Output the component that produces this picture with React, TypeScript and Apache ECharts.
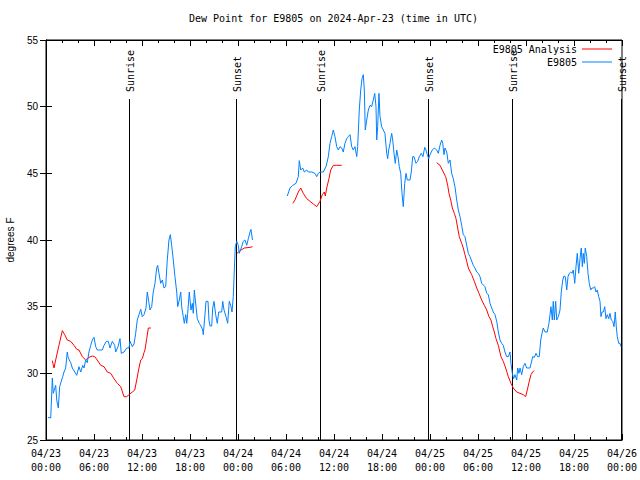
import React, { useEffect, useRef } from "react";
import * as echarts from "echarts";

const TITLE = "Dew Point for E9805 on 2024-Apr-23 (time in UTC)";
const Y_NAME = "degrees F";
const OBS_NAME = "E9805";
const ANA_NAME = "E9805 Analysis";

// x tick labels, one every 6 hours from 04/23 00:00 UTC
const xTickLabels = [
  "04/23\n00:00", "04/23\n06:00", "04/23\n12:00", "04/23\n18:00",
  "04/24\n00:00", "04/24\n06:00", "04/24\n12:00", "04/24\n18:00",
  "04/25\n00:00", "04/25\n06:00", "04/25\n12:00", "04/25\n18:00",
  "04/26\n00:00",
];

// sunrise / sunset, hours since 04/23 00:00 UTC
const sunHours = [10.41, 23.75, 34.25, 47.75, 58.25, 71.87];
const sunLabels = ["Sunrise", "Sunset", "Sunrise", "Sunset", "Sunrise", "Sunset"];

// observed dew point [hours since 04/23 00:00 UTC, °F]
const obsSeg1 = [
  [0.25, 26.7], [0.59, 26.65], [0.79, 29.65], [0.91, 28.5], [1.21, 29.1], [1.34, 28.0],
  [1.54, 27.4], [1.71, 29.0], [1.96, 29.5], [2.09, 29.75], [2.25, 30.1], [2.46, 30.4],
  [2.66, 31.6], [2.75, 31.25], [2.91, 31.0], [3.09, 30.8], [3.29, 30.4], [3.59, 30.1],
  [3.84, 29.85], [4.12, 30.5], [4.34, 30.1], [4.59, 30.6], [4.75, 30.4], [4.96, 31.0],
  [5.16, 30.8], [5.37, 31.6], [5.59, 32.1], [5.79, 32.5], [6.0, 32.7], [6.21, 32.0],
  [6.41, 31.75], [6.84, 31.75], [7.04, 31.75], [7.25, 32.1], [7.54, 32.4], [7.79, 32.4],
  [8.0, 31.9], [8.29, 32.4], [8.59, 32.1], [8.71, 31.6], [9.0, 32.0], [9.25, 32.6],
  [9.41, 31.5], [9.75, 31.6], [10.09, 31.9], [10.37, 31.9], [10.5, 32.4], [10.79, 32.0],
  [11.0, 32.2], [11.21, 33.0], [11.41, 34.0], [11.62, 34.4], [11.84, 34.8], [12.04, 34.25],
  [12.25, 34.4], [12.5, 34.9], [12.66, 36.1], [12.84, 35.4], [13.0, 34.75], [13.21, 35.0],
  [13.41, 36.1], [13.62, 36.75], [13.84, 37.9], [13.96, 38.1], [14.12, 37.5], [14.34, 36.75],
  [14.54, 37.0], [14.75, 36.4], [14.96, 36.5], [15.16, 38.5], [15.37, 40.0], [15.54, 40.4],
  [15.71, 39.6], [15.91, 38.5], [16.12, 37.25], [16.34, 36.1], [16.46, 35.0], [16.66, 35.5],
  [16.84, 36.1], [16.96, 35.0], [17.16, 34.25], [17.29, 33.75], [17.46, 34.4], [17.59, 33.75],
  [17.71, 34.5], [17.91, 36.1], [18.12, 34.75], [18.29, 35.25], [18.41, 34.5], [18.54, 36.25],
  [18.75, 35.0], [18.91, 34.1], [19.16, 33.75], [19.37, 33.55], [19.59, 33.25], [19.66, 32.9],
  [19.87, 34.4], [20.0, 35.4], [20.25, 35.4], [20.37, 34.0], [20.5, 33.55], [20.71, 33.55],
  [20.84, 34.9], [21.0, 35.4], [21.21, 34.4], [21.41, 33.75], [21.59, 34.6], [21.96, 34.6],
  [22.09, 35.4], [22.25, 34.75], [22.5, 34.25], [22.71, 33.75], [22.91, 35.4], [23.09, 35.1],
  [23.25, 34.6], [23.41, 35.75], [23.54, 37.75], [23.66, 39.5], [23.84, 39.9], [24.04, 39.6],
  [24.16, 39.0], [24.46, 39.5], [24.66, 39.9], [24.87, 40.0], [25.09, 39.6], [25.29, 40.1],
  [25.5, 40.6], [25.62, 40.8], [25.81, 40.0],
];

const obsSeg2 = [
  [30.16, 43.3], [30.5, 43.9], [30.84, 44.1], [31.25, 44.25], [31.54, 44.75], [31.66, 45.95],
  [31.84, 45.25], [32.09, 45.4], [32.29, 45.1], [32.59, 45.25], [32.79, 45.1], [33.21, 45.1],
  [33.62, 45.0], [33.84, 44.75], [34.04, 45.0], [34.25, 45.1], [34.66, 45.1], [35.0, 45.5],
  [35.29, 46.25], [35.5, 47.25], [35.71, 47.75], [35.91, 48.25], [36.12, 47.75], [36.34, 47.0],
  [36.54, 46.75], [36.75, 47.0], [36.96, 46.9], [37.16, 46.6], [37.37, 47.25], [37.59, 47.6],
  [37.79, 47.75], [38.0, 47.9], [38.21, 47.0], [38.41, 46.75], [38.62, 47.0], [38.84, 46.25],
  [38.96, 47.0], [39.16, 49.75], [39.34, 51.25], [39.5, 52.1], [39.66, 52.4], [39.79, 51.25],
  [39.91, 48.25], [40.09, 49.0], [40.29, 49.75], [40.5, 50.1], [40.71, 50.0], [40.91, 50.5],
  [41.09, 51.0], [41.25, 50.0], [41.34, 47.5], [41.46, 48.5], [41.62, 51.0], [41.75, 49.25],
  [41.96, 48.5], [42.16, 48.25], [42.37, 48.0], [42.59, 46.5], [42.71, 46.1], [42.84, 46.75],
  [43.0, 47.25], [43.21, 48.0], [43.34, 47.5], [43.5, 46.5], [43.66, 45.75], [43.84, 46.75],
  [44.0, 46.25], [44.16, 45.5], [44.34, 45.0], [44.5, 43.5], [44.66, 42.5], [44.84, 44.25],
  [45.0, 45.0], [45.16, 44.5], [45.5, 44.5], [45.66, 45.1], [45.84, 46.25], [46.0, 46.25],
  [46.25, 45.75], [46.46, 45.9], [46.66, 46.25], [46.91, 46.5], [47.12, 46.25], [47.34, 46.95],
  [47.5, 46.75], [47.66, 46.4], [47.84, 46.1], [48.0, 46.4], [48.29, 46.75], [48.54, 46.9],
  [48.84, 46.75], [49.04, 46.5], [49.25, 47.1], [49.46, 47.5], [49.59, 47.25], [49.75, 46.4],
  [49.87, 46.9], [50.09, 46.6], [50.29, 45.75], [50.5, 46.0], [50.71, 45.0], [50.91, 44.6],
  [51.12, 44.0], [51.34, 43.0], [51.54, 42.25], [51.75, 41.75], [51.96, 41.1], [52.16, 40.4],
  [52.37, 40.25], [52.59, 39.6], [52.79, 39.0], [53.0, 38.75], [53.41, 38.1], [53.62, 37.9],
  [53.84, 37.6], [54.04, 37.5], [54.25, 37.25], [54.46, 36.75], [54.87, 36.5], [55.09, 36.0],
  [55.29, 35.9], [55.5, 35.25], [55.71, 34.9], [55.91, 34.6], [56.12, 34.4], [56.34, 33.9],
  [56.54, 33.1], [56.75, 32.5], [56.96, 32.25], [57.16, 32.1], [57.37, 31.6], [57.59, 31.25],
  [57.79, 31.25], [58.0, 31.6], [58.12, 30.75], [58.29, 30.0], [58.46, 29.6], [58.62, 29.9],
  [58.84, 29.5], [58.96, 30.4], [59.12, 30.0], [59.25, 30.4], [59.46, 29.9], [59.66, 30.5],
  [59.87, 30.75], [60.09, 30.4], [60.5, 30.4], [60.84, 31.25], [61.04, 31.2], [61.25, 31.5],
  [61.46, 31.25], [61.66, 31.25], [61.84, 32.5], [62.0, 33.0], [62.16, 33.4], [62.37, 33.1],
  [62.66, 33.1], [62.87, 33.75], [63.0, 34.4], [63.12, 35.0], [63.29, 34.0], [63.41, 35.4],
  [63.54, 34.0], [63.71, 35.4], [63.84, 34.0], [64.04, 34.25], [64.25, 34.75], [64.41, 36.1],
  [64.59, 37.0], [64.75, 37.3], [64.91, 37.25], [65.09, 36.25], [65.25, 37.25], [65.41, 37.5],
  [65.59, 37.6], [65.75, 37.5], [65.91, 37.75], [66.09, 36.75], [66.25, 38.0], [66.41, 39.0],
  [66.59, 37.5], [66.75, 38.6], [66.91, 39.4], [67.04, 38.0], [67.16, 39.0], [67.29, 38.25],
  [67.41, 39.4], [67.59, 38.75], [67.75, 37.5], [67.91, 36.75], [68.09, 36.25], [68.25, 36.4],
  [68.41, 36.4], [68.59, 36.5], [68.75, 36.1], [68.91, 36.25], [69.09, 35.75], [69.25, 35.4],
  [69.37, 34.25], [69.5, 34.6], [69.66, 34.6], [69.84, 35.0], [70.0, 34.1], [70.16, 34.4],
  [70.34, 34.1], [70.5, 34.5], [70.66, 34.0], [70.84, 33.9], [71.0, 33.5], [71.16, 34.6],
  [71.29, 33.5], [71.41, 32.75], [71.59, 32.25], [71.75, 32.25], [71.87, 32.0],
];

// analysis dew point [hours since 04/23 00:00 UTC, °F]
const anaSeg1 = [
  [0.79, 30.95], [1.0, 30.4], [1.21, 31.0], [1.62, 32.1], [2.04, 33.2], [2.34, 32.9],
  [2.66, 32.5], [3.09, 32.4], [3.5, 32.1], [3.84, 31.8], [4.12, 31.75], [4.54, 31.25],
  [4.96, 31.0], [5.37, 31.2], [5.79, 31.3], [6.09, 31.25], [6.41, 31.0], [6.84, 30.6],
  [7.25, 30.5], [7.66, 30.1], [8.09, 30.0], [8.5, 29.6], [8.91, 29.25], [9.34, 29.0],
  [9.75, 28.25], [10.09, 28.25], [10.37, 28.4], [10.79, 28.6], [11.09, 28.75], [11.34, 29.5],
  [11.62, 30.4], [11.84, 31.0], [12.04, 31.1], [12.25, 31.55], [12.37, 31.75], [12.59, 32.6],
  [12.79, 33.4], [13.12, 33.4],
];
const anaSeg2 = [[23.87, 39.0], [24.25, 39.2], [24.79, 39.4], [25.5, 39.45], [25.81, 39.5]];
const anaSeg3 = [
  [30.84, 42.75], [31.12, 43.0], [31.54, 43.6], [31.84, 43.9], [32.16, 43.5], [32.59, 43.1],
  [33.0, 42.9], [33.41, 42.7], [33.84, 42.5], [34.25, 42.9], [34.54, 43.4], [34.79, 43.6],
  [34.91, 43.3], [35.09, 43.9], [35.37, 44.6], [35.59, 45.25], [35.91, 45.6], [36.34, 45.6],
  [36.96, 45.6],
];
const anaSeg4 = [
  [48.84, 45.8], [49.25, 45.6], [49.66, 45.1], [49.96, 44.75], [50.21, 44.1], [50.37, 43.5],
  [50.59, 43.0], [50.79, 42.4], [51.04, 42.0], [51.25, 41.6], [51.46, 40.9], [51.66, 40.25],
  [51.96, 39.75], [52.16, 39.4], [52.37, 38.9], [52.59, 38.4], [52.79, 37.9], [53.21, 37.4],
  [53.54, 36.9], [53.84, 36.4], [54.12, 36.0], [54.46, 35.5], [54.79, 35.1], [55.09, 34.75],
  [55.37, 34.25], [55.62, 34.0], [55.84, 33.5], [56.04, 33.1], [56.25, 32.6], [56.54, 32.1],
  [56.87, 31.25], [57.16, 30.9], [57.46, 30.4], [57.79, 29.75], [58.12, 29.25], [58.41, 28.9],
  [58.84, 28.6], [59.25, 28.5], [59.66, 28.4], [59.96, 28.25], [60.16, 28.75], [60.41, 29.4],
  [60.62, 29.9], [60.84, 30.1], [61.0, 30.2],
];

const joinWithGaps = (segs: number[][][]) => {
  const out: any[] = [];
  segs.forEach((s, i) => {
    if (i > 0) out.push([(segs[i - 1][segs[i - 1].length - 1][0] + s[0][0]) / 2, "-"]);
    s.forEach((p) => out.push(p));
  });
  return out;
};

const MONO = '"DejaVu Sans Mono", "Liberation Mono", monospace';
const SANS = '"Liberation Sans", Arial, sans-serif';

export default function App() {
  const ref = useRef<HTMLDivElement>(null);
  useEffect(() => {
    if (!ref.current) return;
    const chart = echarts.init(ref.current, null, { renderer: "svg" });
    const axisLine = { show: true, lineStyle: { color: "#000", width: 1 } };
    const xCommon = {
      type: "value",
      min: 0,
      max: 72,
      interval: 6,
      axisLine,
      axisTick: { show: true, inside: true, length: 6, lineStyle: { color: "#000" } },
      minorTick: { show: true, splitNumber: 3, length: 3, lineStyle: { color: "#000" } },
      splitLine: { show: false },
      minorSplitLine: { show: false },
    };
    const yCommon = {
      type: "value",
      min: 25,
      max: 55,
      interval: 5,
      axisLine,
      axisTick: { show: true, inside: true, length: 6, lineStyle: { color: "#000" } },
      splitLine: { show: false },
    };
    chart.setOption({
      animation: false,
      backgroundColor: "#fff",
      title: {
        text: TITLE,
        left: 189,
        top: 13,
        padding: 0,
        textStyle: { fontFamily: MONO, fontSize: 10, fontWeight: "normal", color: "#000" },
      },
      legend: {
        data: [
          { name: ANA_NAME, icon: "rect" },
          { name: OBS_NAME, icon: "rect" },
        ],
        orient: "vertical",
        right: 23,
        top: 39,
        align: "right",
        itemWidth: 30,
        itemHeight: 1,
        itemGap: 3,
        textStyle: { fontFamily: MONO, fontSize: 10, color: "#000" },
      },
      grid: {
        left: 46, right: 18, top: 40, bottom: 40,
        show: true, borderColor: "#000", borderWidth: 1,
        containLabel: false, outerBoundsMode: "none",
      },
      xAxis: [
        {
          ...xCommon,
          position: "bottom",
          axisLabel: {
            show: true,
            margin: 6,
            fontFamily: MONO,
            fontSize: 10,
            lineHeight: 14,
            color: "#000",
            formatter: (v: number) => xTickLabels[Math.round(v / 6)] ?? "",
          },
        },
        { ...xCommon, position: "top", axisLabel: { show: false } },
      ],
      yAxis: [
        {
          ...yCommon,
          position: "left",
          name: Y_NAME,
          nameLocation: "middle",
          nameGap: 31,
          nameRotate: 90,
          nameTextStyle: { fontFamily: SANS, fontSize: 10, color: "#000" },
          axisLabel: { show: true, margin: 8, fontFamily: SANS, fontSize: 10, color: "#000" },
        },
        { ...yCommon, position: "right", axisLabel: { show: false } },
      ],
      series: [
        {
          name: ANA_NAME,
          type: "line",
          xAxisIndex: 0,
          yAxisIndex: 0,
          data: joinWithGaps([anaSeg1, anaSeg2, anaSeg3, anaSeg4]),
          symbol: "none",
          connectNulls: false,
          color: "#ff0000",
          lineStyle: { color: "#ff0000", width: 1 },
          z: 3,
        },
        {
          name: OBS_NAME,
          type: "line",
          xAxisIndex: 0,
          yAxisIndex: 0,
          data: joinWithGaps([obsSeg1, obsSeg2]),
          symbol: "none",
          connectNulls: false,
          color: "#0080ff",
          lineStyle: { color: "#0080ff", width: 1 },
          z: 4,
        },
        {
          name: "sun",
          type: "custom",
          xAxisIndex: 0,
          yAxisIndex: 0,
          data: sunHours.map((h) => [h, 25]),
          z: 2,
          renderItem: (params: any, api: any) => {
            const p = api.coord([api.value(0), api.value(1)]);
            const cs = params.coordSys;
            const x = Math.round(p[0]) + 0.5;
            return {
              type: "group",
              children: [
                {
                  type: "line",
                  shape: { x1: x, y1: cs.y + 59, x2: x, y2: cs.y + cs.height },
                  style: { stroke: "#000", lineWidth: 1 },
                },
                {
                  type: "text",
                  x: x + 1,
                  y: cs.y + 52,
                  rotation: Math.PI / 2,
                  style: {
                    text: sunLabels[params.dataIndex],
                    font: `10px ${MONO}`,
                    fill: "#000",
                    align: "left",
                    verticalAlign: "middle",
                  },
                },
              ],
            };
          },
        },
      ],
    });
    return () => chart.dispose();
  }, []);
  return <div ref={ref} style={{ width: 640, height: 480, position: "absolute", left: 0, top: 0 }} />;
}
